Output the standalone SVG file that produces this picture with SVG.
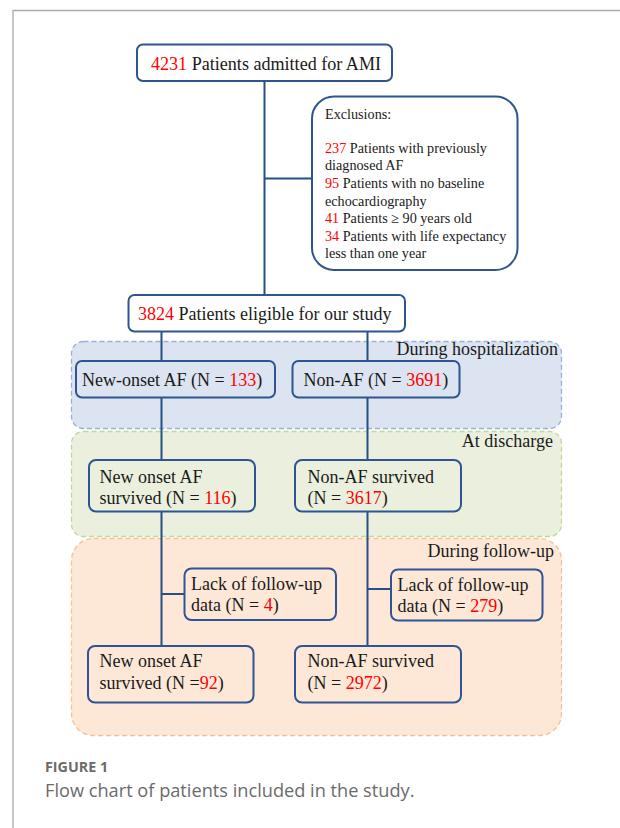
<svg xmlns="http://www.w3.org/2000/svg" width="620" height="828" viewBox="0 0 620 828">
<style>
.t{font-family:"Liberation Serif","Times New Roman",serif;font-size:18px;fill:#1a1a1a}
.s{font-size:14.2px}
.big{font-size:18.6px}
.r{fill:#ff0000}
.box{stroke:#2f5590;stroke-width:2;fill:none}
.wbox{stroke:#2f5590;stroke-width:2;fill:#ffffff}
.ln{stroke:#254f86;stroke-width:2;fill:none}
.band{stroke-width:1.3;stroke-dasharray:5 3}
.cap{font-family:"Open Sans","Liberation Sans",sans-serif;fill:#6b6b6b}
</style>
<rect width="620" height="828" fill="#ffffff"/>
<path d="M13 828 V10.5 H620" stroke="#aaaaaa" stroke-width="1.3" fill="none"/>

<g id="bands">
<rect x="71.5" y="341.5" width="490" height="87" rx="12" class="band" fill="#dbe4f0" stroke="#95b3d7"/>
<rect x="71.5" y="431.5" width="490" height="105" rx="12" class="band" fill="#ebf0de" stroke="#c3d69b"/>
<rect x="71.5" y="538.5" width="490" height="197" rx="22" class="band" fill="#fde8d8" stroke="#f9bf8f"/>
<text class="t" x="558" y="355" text-anchor="end">During hospitalization</text>
<text class="t" x="553" y="447" text-anchor="end">At discharge</text>
<text class="t" x="554" y="557" text-anchor="end">During follow-up</text>
</g>

<g id="connectors">
<path class="ln" d="M264.5 81 V295"/>
<path class="ln" d="M264.5 178.5 H312"/>
<path class="ln" d="M161.5 331.5 V361"/>
<path class="ln" d="M367.5 331.5 V361"/>
<path class="ln" d="M161.5 397.5 V460"/>
<path class="ln" d="M367.5 397.5 V460"/>
<path class="ln" d="M161.5 511.5 V646"/>
<path class="ln" d="M367.5 511.5 V646"/>
<path class="ln" d="M161.5 594 H184.5"/>
<path class="ln" d="M367.5 589 H391"/>
</g>

<g id="admitted">
<rect x="137" y="44.5" width="255" height="36.5" rx="6" class="wbox"/>
<text class="t big" x="151" y="70" textLength="230" lengthAdjust="spacingAndGlyphs"><tspan class="r">4231</tspan> Patients admitted for AMI</text>
</g>

<g id="exclusions">
<rect x="312" y="96.5" width="205.5" height="173.5" rx="22" class="wbox"/>
<text class="t s" x="325" y="119">Exclusions:</text>
<text class="t s" x="325" y="153"><tspan class="r">237</tspan> Patients with previously</text>
<text class="t s" x="325" y="170">diagnosed AF</text>
<text class="t s" x="325" y="188"><tspan class="r">95</tspan> Patients with no baseline</text>
<text class="t s" x="325" y="205.5">echocardiography</text>
<text class="t s" x="325" y="223"><tspan class="r">41</tspan> Patients ≥ 90 years old</text>
<text class="t s" x="325" y="240.5"><tspan class="r">34</tspan> Patients with life expectancy</text>
<text class="t s" x="325" y="257.5">less than one year</text>
</g>

<g id="eligible">
<rect x="128.5" y="295" width="276.5" height="36.5" rx="6" class="wbox"/>
<text class="t" x="138" y="320"><tspan class="r">3824</tspan> Patients eligible for our study</text>
</g>

<g id="newonset">
<rect x="76" y="361" width="199" height="36.5" rx="6" class="box"/>
<text class="t" x="82" y="386">New-onset AF (N = <tspan class="r">133</tspan>)</text>
</g>

<g id="nonaf">
<rect x="292.5" y="361" width="167" height="36.5" rx="6" class="box"/>
<text class="t" x="303.5" y="386">Non-AF (N = <tspan class="r">3691</tspan>)</text>
</g>

<g id="newonset-discharge">
<rect x="89" y="460" width="166" height="51.5" rx="7" class="box"/>
<text class="t" x="99.5" y="483">New onset AF</text>
<text class="t" x="99.5" y="504">survived (N = <tspan class="r">116</tspan>)</text>
</g>

<g id="nonaf-discharge">
<rect x="295" y="460" width="166" height="51.5" rx="7" class="box"/>
<text class="t" x="307.5" y="483">Non-AF survived</text>
<text class="t" x="307.5" y="504">(N = <tspan class="r">3617</tspan>)</text>
</g>

<g id="lack-left">
<rect x="184.5" y="568.5" width="151.5" height="51.5" rx="7" class="box"/>
<text class="t" x="191" y="590">Lack of follow-up</text>
<text class="t" x="191" y="611">data (N = <tspan class="r">4</tspan>)</text>
</g>

<g id="lack-right">
<rect x="391" y="569.5" width="151.5" height="51" rx="7" class="box"/>
<text class="t" x="397.5" y="591">Lack of follow-up</text>
<text class="t" x="397.5" y="612">data (N = <tspan class="r">279</tspan>)</text>
</g>

<g id="newonset-followup">
<rect x="88" y="646" width="165.5" height="56.5" rx="7" class="box"/>
<text class="t" x="99.5" y="667">New onset AF</text>
<text class="t" x="99.5" y="689">survived (N =<tspan class="r">92</tspan>)</text>
</g>

<g id="nonaf-followup">
<rect x="295" y="646" width="166" height="56.5" rx="7" class="box"/>
<text class="t" x="307.5" y="667">Non-AF survived</text>
<text class="t" x="307.5" y="689">(N = <tspan class="r">2972</tspan>)</text>
</g>

<g id="caption">
<text class="cap" x="45" y="772" font-size="14.3" font-weight="bold">FIGURE 1</text>
<text class="cap" x="45" y="797" font-size="18.2">Flow chart of patients included in the study.</text>
</g>
</svg>
